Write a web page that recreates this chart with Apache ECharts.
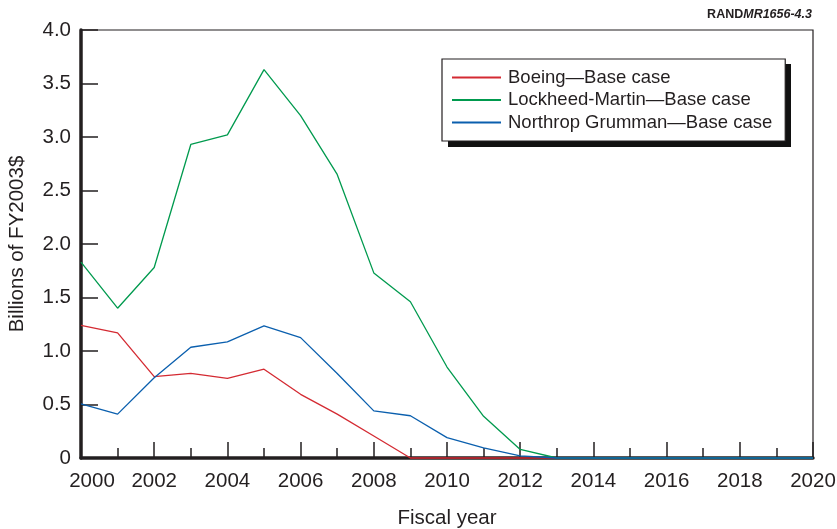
<!DOCTYPE html>
<html>
<head>
<meta charset="utf-8">
<script src="https://cdn.jsdelivr.net/npm/echarts@6/dist/echarts.min.js"></script>
<style>
html,body{margin:0;padding:0;background:#fff;}
#chart{width:837px;height:529px;}
</style>
</head>
<body>
<div id="chart"></div>
<script>
// ---- data ----
var years = [2000,2001,2002,2003,2004,2005,2006,2007,2008,2009,2010,2011,2012,2013,2014,2015,2016,2017,2018,2019,2020];
var boeing   = [1.24,1.17,0.76,0.79,0.745,0.83,0.595,0.41,0.205,0,0,0,0,0,0,0,0,0,0,0,0];
var lockheed = [1.83,1.40,1.78,2.93,3.02,3.63,3.20,2.65,1.73,1.46,0.85,0.39,0.08,0,0,0,0,0,0,0,0];
var northrop = [0.505,0.41,0.75,1.035,1.085,1.235,1.125,0.79,0.44,0.395,0.19,0.095,0.02,0,0,0,0,0,0,0,0];
var seriesNames = ['Boeing\u2014Base case','Lockheed-Martin\u2014Base case','Northrop Grumman\u2014Base case'];
var yTickValues = [0,0.5,1,1.5,2,2.5,3,3.5,4];
var yTickLabels = ['0','0.5','1.0','1.5','2.0','2.5','3.0','3.5','4.0'];
var xTickValues = [2000,2002,2004,2006,2008,2010,2012,2014,2016,2018,2020];
var xTickLabels = ['2000','2002','2004','2006','2008','2010','2012','2014','2016','2018','2020'];

var FONT = '"Liberation Sans", Arial, Helvetica, sans-serif';
var INK = '#231f20';

function pairs(vals){ return years.map(function(y,i){ return [y, vals[i]]; }); }

var chart = echarts.init(document.getElementById('chart'), null, {renderer:'canvas'});
chart.setOption({
  animation: false,
  backgroundColor: '#fff',
  title: {
    text: '{a|RAND}{b|MR1656-4.3}',
    right: 20, top: 3,
    textStyle: {
      rich: {
        a: {fontFamily: FONT, fontWeight: 'bold', fontSize: 12.5, color: INK},
        b: {fontFamily: FONT, fontStyle: 'italic', fontSize: 12.5, color: INK}
      }
    }
  },
  graphic: [
    {type: 'rect', left: 448, top: 64, z: 3, silent: true,
     shape: {width: 343, height: 83}, style: {fill: '#111'}}
  ],
  grid: {
    left: 81, right: 24, top: 30, bottom: 71,
    outerBoundsMode: 'none',
    containLabel: false,
    show: true, borderColor: INK, borderWidth: 1.2, backgroundColor: 'transparent'
  },
  legend: {
    orient: 'vertical',
    left: 442, top: 59, z: 5,
    padding: [9, 13, 9, 10],
    itemWidth: 49, itemHeight: 2, itemGap: 3.5,
    icon: 'rect',
    backgroundColor: '#fff',
    borderColor: INK, borderWidth: 1.2,
    textStyle: {fontFamily: FONT, fontSize: 18.5, color: INK, lineHeight: 18, padding: [0,0,0,2]},
    data: seriesNames
  },
  xAxis: {
    type: 'value',
    min: 2000, max: 2020, interval: 2,
    name: 'Fiscal year',
    nameLocation: 'middle',
    nameGap: 50,
    nameTextStyle: {fontFamily: FONT, fontSize: 20.5, color: INK},
    axisLine: {show: true, onZero: false, lineStyle: {color: INK, width: 3.5}},
    axisTick: {show: true, inside: true, length: 16, lineStyle: {color: INK, width: 1.5}},
    minorTick: {show: true, splitNumber: 2, length: 10, lineStyle: {color: INK, width: 1.5}},
    splitLine: {show: false},
    axisLabel: {
      margin: 13,
      fontFamily: FONT, fontSize: 20.5, color: INK,
      formatter: function(v){
        var i = xTickValues.indexOf(v);
        var t = i >= 0 ? xTickLabels[i] : '';
        return v === 2000 ? '{f|' + t + '}' : t;
      },
      rich: {f: {fontFamily: FONT, fontSize: 20.5, color: INK, padding: [0,0,0,22]}}
    }
  },
  yAxis: {
    type: 'value',
    min: 0, max: 4, interval: 0.5,
    name: 'Billions of FY2003$',
    nameLocation: 'middle',
    nameRotate: 90,
    nameGap: 53,
    nameTextStyle: {fontFamily: FONT, fontSize: 20.5, color: INK},
    axisLine: {show: true, lineStyle: {color: INK, width: 3.5}},
    axisTick: {show: true, inside: true, length: 17, lineStyle: {color: INK, width: 1.5}},
    splitLine: {show: false},
    axisLabel: {
      margin: 10,
      fontFamily: FONT, fontSize: 20.5, color: INK,
      formatter: function(v){
        var i = yTickValues.indexOf(v);
        return i >= 0 ? yTickLabels[i] : '';
      }
    }
  },
  series: [
    {name: seriesNames[0], type: 'line', data: pairs(boeing), symbol: 'none', clip: false,
     lineStyle: {color: '#d42a32', width: 1.3}, itemStyle: {color: '#d42a32'}},
    {name: seriesNames[1], type: 'line', data: pairs(lockheed), symbol: 'none', clip: false,
     lineStyle: {color: '#009a4e', width: 1.3}, itemStyle: {color: '#009a4e'}},
    {name: seriesNames[2], type: 'line', data: pairs(northrop), symbol: 'none', clip: false,
     lineStyle: {color: '#0a5fae', width: 1.3}, itemStyle: {color: '#0a5fae'}}
  ]
});
</script>
</body>
</html>
